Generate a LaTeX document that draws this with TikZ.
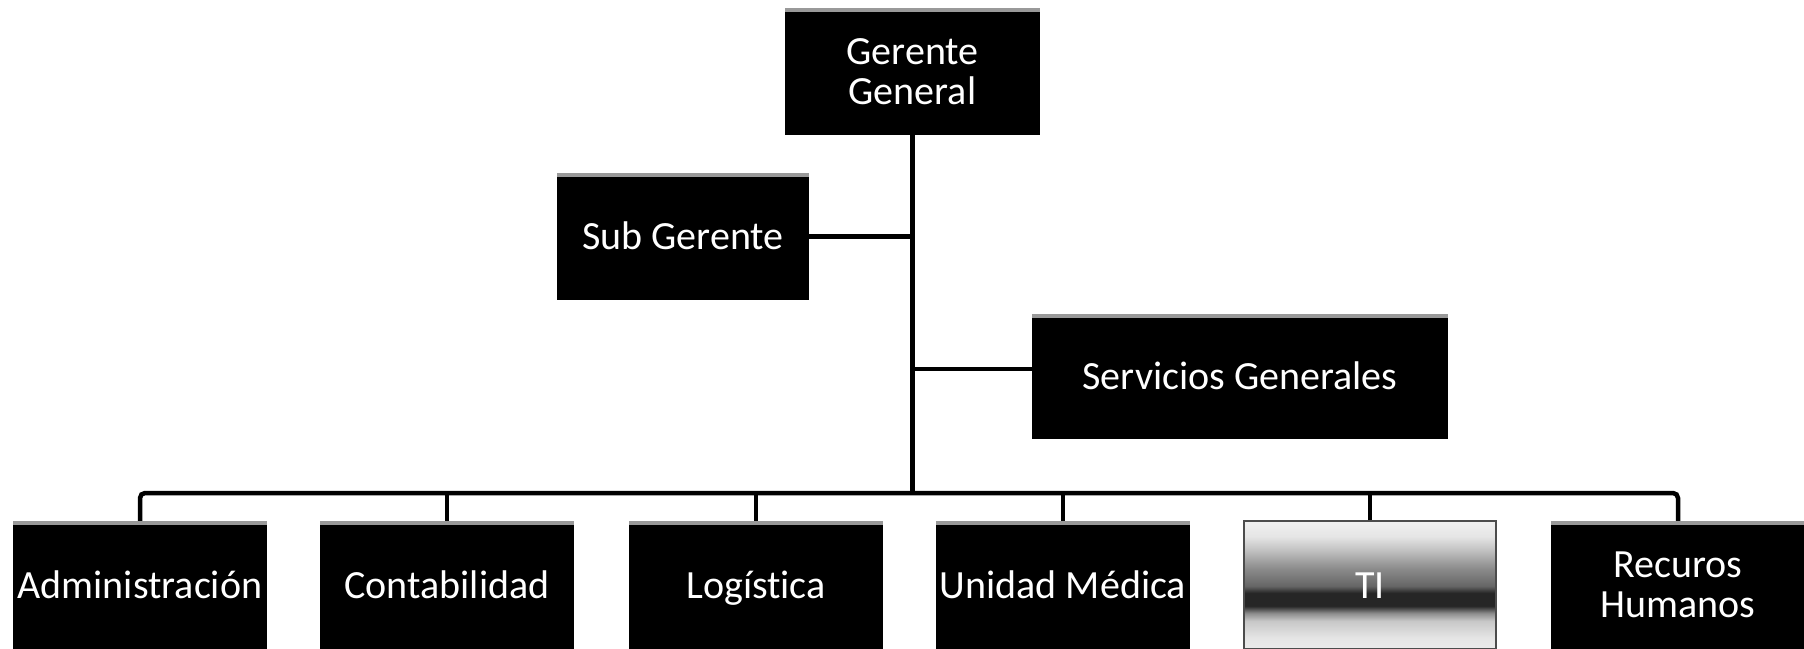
\documentclass[tikz,border=0pt]{standalone}
\usepackage{fontspec}
\setmainfont{Carlito}[Ligatures=NoCommon]
\pgfdeclareverticalshading{tishade}{100bp}{color(0bp)=(black!8); color(25bp)=(black!8); color(29.3bp)=(black!10); color(36bp)=(black!22); color(39bp)=(black!45); color(41.8bp)=(black!85); color(46.9bp)=(black!85); color(49.6bp)=(black!60); color(56.6bp)=(black!45); color(63.3bp)=(black!25); color(69bp)=(black!10); color(75bp)=(black!6); color(100bp)=(black!6)}
\tikzset{
  topstrip/.style={path picture={\fill[black!40] (path picture bounding box.north west) rectangle ([yshift=-4pt]path picture bounding box.north east);}},
  box/.style={fill=black, text=white, align=center, inner sep=0pt, topstrip,
    font=\fontsize{40}{40}\selectfont, minimum height=128pt},
  oneline/.style={text height=32pt, text depth=6pt},
  tibox/.style={shading=tishade, draw=black!70, line width=1.5pt, text=white, align=center, inner sep=0pt,
    font=\fontsize{40}{40}\selectfont, minimum height=128pt},
  conn/.style={draw=black, line width=4.5pt},
  busline/.style={draw=black, line width=4.5pt, rounded corners=5pt}
}
\begin{document}
\begin{tikzpicture}[x=1pt,y=-1pt]
\useasboundingbox (0,0) rectangle (1804,648);
% top level
\node[box, minimum width=255pt, minimum height=127pt] (gg) at (912.5,71.5) {Gerente\\General};
\node[box, oneline, minimum width=252pt, minimum height=127pt] (sg) at (683,236.5) {Sub Gerente};
\node[box, oneline, minimum width=416pt, minimum height=125pt] (sv) at (1240,376) {Servicios Generales};
% bottom row
\node[box, oneline, minimum width=254pt] (adm) at (140,585) {Administración};
\node[box, oneline, minimum width=254pt] (con) at (447,585) {Contabilidad};
\node[box, oneline, minimum width=254pt] (log) at (756,585) {Logística};
\node[box, oneline, minimum width=254pt] (um) at (1063,585) {Unidad Médica};
\node[tibox, oneline, minimum width=252pt] (ti) at (1370,585) {TI};
\node[box, minimum width=254pt] (rh) at (1678,585) {Recuros\\Humanos};
% connectors
\coordinate (bus) at (912.5,493);
\draw[conn] (gg.south) -- (bus);
\draw[conn] (sg.east) -- (sg.east -| gg.south);
\draw[conn] ([yshift=7pt]sv.west) -- ([yshift=7pt]sv.west -| gg.south);
\draw[busline] (adm.north) -- (adm.north |- bus) -- (rh.north |- bus) -- (rh.north);
\draw[conn] (con.north) -- (con.north |- bus);
\draw[conn] (log.north) -- (log.north |- bus);
\draw[conn] (um.north) -- (um.north |- bus);
\draw[conn] (ti.north) -- (ti.north |- bus);
\end{tikzpicture}
\end{document}
